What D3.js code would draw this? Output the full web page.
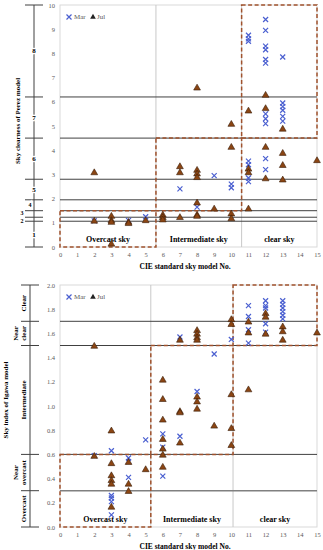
<!DOCTYPE html>
<html>
<head>
<meta charset="utf-8">
<script src="https://cdn.jsdelivr.net/npm/d3@7"></script>
<style>
  body { margin: 0; background: #fff; }
  svg text { font-family: "Liberation Serif", "DejaVu Serif", serif; }
</style>
</head>
<body>
<div id="chart"></div>
<script>
// CIE sky model numbers on the x axis
const skyModels = d3.range(0, 16);

// Perez sky clearness, [model No., value]
const perezMar = [
  [2, 1.08], [4, 1.1], [5, 1.25], [7, 2.4], [8, 1.65], [9, 2.95], [10, 2.6], [10, 2.45],
  [11, 8.75], [11, 8.6], [11, 8.5], [11, 3.55], [11, 3.4], [11, 2.85], [11, 2.7],
  [12, 9.4], [12, 8.95], [12, 8.3], [12, 8.15], [12, 7.75], [12, 7.6], [12, 5.5], [12, 5.3],
  [12, 5.1], [12, 3.65], [12, 3.2],
  [13, 7.85], [13, 5.95], [13, 5.8], [13, 5.65], [13, 5.4], [13, 5.2]
];
const perezJul = [
  [2, 3.1], [2, 1.1], [3, 1.3], [3, 1.12], [3, 1.05], [3, 0.15], [4, 1.05], [4, 1.0], [5, 1.12],
  [6, 1.35], [6, 1.25], [6, 1.15], [7, 3.35], [7, 3.1], [7, 1.25],
  [8, 6.6], [8, 3.2], [8, 3.05], [8, 2.9], [8, 1.85], [8, 1.35], [8, 1.3], [9, 1.6],
  [10, 5.1], [10, 4.15], [10, 1.4], [10, 1.2],
  [11, 5.65], [11, 3.25], [11, 3.1], [11, 1.6],
  [12, 6.3], [12, 5.75], [12, 4.15], [12, 2.85],
  [13, 4.9], [13, 3.9], [13, 3.4], [13, 2.8], [15, 3.6]
];
// Perez clearness category limits and names
const perezLimits = [0, 1.065, 1.23, 1.5, 1.95, 2.8, 4.5, 6.2, 10];
const perezClasses = ["1", "2", "3", "4", "5", "6", "7", "8"];
const perezTicks = d3.range(0, 11);
const perezSplits = [5.6, 10.6];
const perezBoxLimits = [[0, 1.5], [1.5, 4.5], [4.5, 10]];

// Igawa sky index
const igawaMar = [
  [2, 0.59], [3, 0.63], [3, 0.26], [3, 0.24], [3, 0.21], [3, 0.1],
  [4, 0.57], [4, 0.54], [4, 0.41], [5, 0.72], [6, 0.77], [6, 0.66], [6, 0.42],
  [7, 1.57], [7, 0.75], [8, 1.12], [9, 1.43], [10, 1.55],
  [11, 1.83], [11, 1.74], [11, 1.63], [11, 1.52],
  [12, 1.87], [12, 1.83], [12, 1.81], [12, 1.68], [12, 1.61],
  [13, 1.87], [13, 1.84], [13, 1.81], [13, 1.78], [13, 1.75], [13, 1.72]
];
const igawaJul = [
  [2, 1.5], [2, 0.59], [3, 0.8], [3, 0.53], [3, 0.43], [3, 0.39], [3, 0.36], [3, 0.17],
  [4, 0.54], [4, 0.36], [4, 0.3], [5, 0.48],
  [6, 1.22], [6, 1.06], [6, 0.89], [6, 0.73], [6, 0.65], [6, 0.6], [6, 0.5],
  [7, 1.55], [7, 0.96], [7, 0.95], [7, 0.7],
  [8, 1.63], [8, 1.6], [8, 1.57], [8, 1.55], [8, 1.08], [8, 1.04], [8, 0.98], [9, 0.84],
  [10, 1.72], [10, 1.68], [10, 1.1], [10, 0.82], [10, 0.68],
  [11, 1.7], [11, 1.61], [11, 1.14], [12, 1.77], [12, 1.74], [12, 1.6],
  [13, 1.66], [13, 1.62], [13, 1.55], [15, 1.61]
];
const igawaLimits = [0, 0.3, 0.6, 1.5, 1.7, 2.0];
const igawaClasses = [["Overcast"], ["Near", "overcast"], ["Intermediate"], ["Near", "clear"], ["Clear"]];
const igawaTicks = d3.range(0, 2.01, 0.2);
const igawaSplits = [5.3, 10.1];
const igawaBoxLimits = [[0, 0.6], [0.6, 1.5], [1.5, 2.0]];

const regionNames = ["Overcast sky", "Intermediate sky", "clear sky"];

const W = 323, H = 550;
const markBrown = "#8b4513", crossBlue = "#4a5fd0", boxColor = "#a0522d";

const svg = d3.select("#chart").append("svg")
  .attr("width", W).attr("height", H);

function drawPanel(cfg) {
  const g = svg.append("g");
  const x = d3.scaleLinear().domain([0, 15]).range([60, 317]);
  const y = d3.scaleLinear().domain([0, cfg.yMax]).range([cfg.bottom, cfg.top]);

  // plot frame
  g.append("rect")
    .attr("x", x(0)).attr("y", y(cfg.yMax))
    .attr("width", x(15) - x(0)).attr("height", y(0) - y(cfg.yMax))
    .attr("fill", "none").attr("stroke", "#d9d9d9");

  // vertical splits
  g.selectAll(".split").data(cfg.splits).enter().append("line")
    .attr("x1", d => x(d)).attr("x2", d => x(d))
    .attr("y1", y(0)).attr("y2", y(cfg.yMax))
    .attr("stroke", "#c8c8c8");

  // class limits
  const inner = cfg.limits.slice(1, -1);
  g.selectAll(".lim").data(inner).enter().append("line")
    .attr("x1", x(0)).attr("x2", x(15))
    .attr("y1", d => y(d)).attr("y2", d => y(d))
    .attr("stroke", d => cfg.greyLine === d ? "#808080" : "#404040")
    .attr("stroke-width", d => cfg.greyLine === d ? 1.6 : 1);

  // axes
  const xAxis = g.append("g")
    .attr("transform", `translate(0,${cfg.bottom})`)
    .call(d3.axisBottom(x).tickValues(skyModels).tickSize(0).tickPadding(5));
  xAxis.select(".domain").remove();
  xAxis.selectAll("text").attr("fill", "#595959").style("font-size", "6.5px");

  const yAxis = g.append("g")
    .attr("transform", `translate(60,0)`)
    .call(d3.axisLeft(y).tickValues(cfg.ticks).tickFormat(cfg.fmt).tickSize(0).tickPadding(5));
  yAxis.select(".domain").remove();
  yAxis.selectAll("text").attr("fill", "#595959").style("font-size", "6.5px");

  // region boxes
  const xb = [0, cfg.splits[0], cfg.splits[1], 15];
  cfg.boxes.forEach((b, i) => {
    g.append("rect")
      .attr("x", x(xb[i])).attr("y", y(b[1]))
      .attr("width", x(xb[i + 1]) - x(xb[i])).attr("height", y(b[0]) - y(b[1]))
      .attr("fill", "none").attr("stroke", boxColor)
      .attr("stroke-width", 1.5).attr("stroke-dasharray", "4,2.5");
    g.append("text")
      .attr("x", x((xb[i] + xb[i + 1]) / 2)).attr("y", cfg.bottom - cfg.regionLift)
      .attr("text-anchor", "middle").attr("font-weight", "bold")
      .style("font-size", "8px").text(regionNames[i]);
  });

  // side class axis
  const sx = cfg.sideX;
  g.append("line").attr("x1", sx).attr("x2", sx)
    .attr("y1", y(0)).attr("y2", y(cfg.yMax)).attr("stroke", "#404040");
  g.selectAll(".stick").data(cfg.limits).enter().append("line")
    .attr("x1", sx - 9).attr("x2", sx + 9)
    .attr("y1", d => y(d)).attr("y2", d => y(d)).attr("stroke", "#404040");
  cfg.drawClasses(g, y);

  // axis titles
  g.append("text")
    .attr("x", 185).attr("y", cfg.bottom + 22)
    .attr("text-anchor", "middle").attr("font-weight", "bold")
    .style("font-size", "7.5px").text("CIE standard sky model No.");
  g.append("text")
    .attr("transform", `translate(${cfg.titleX},${cfg.titleY}) rotate(-90)`)
    .attr("text-anchor", "middle").attr("font-weight", "bold")
    .style("font-size", "7px").text(cfg.title);

  // points: Mar first, Jul on top
  const cross = d3.symbol().type(d3.symbolTimes).size(18);
  const tri = d3.symbol().type(d3.symbolTriangle).size(20);
  g.selectAll(".mar").data(cfg.mar).enter().append("path")
    .attr("transform", d => `translate(${x(d[0])},${y(d[1])})`)
    .attr("d", cross).attr("fill", "none")
    .attr("stroke", crossBlue).attr("stroke-width", 1.2);
  g.selectAll(".jul").data(cfg.jul).enter().append("path")
    .attr("transform", d => `translate(${x(d[0])},${y(d[1]) + 0.8})`)
    .attr("d", tri).attr("fill", markBrown)
    .attr("stroke", "#3b1f0a").attr("stroke-width", 0.6);

  // legend
  const ly = cfg.top + 12;
  g.append("path").attr("transform", `translate(69,${ly})`)
    .attr("d", cross).attr("fill", "none").attr("stroke", crossBlue).attr("stroke-width", 1.2);
  g.append("text").attr("x", 74).attr("y", ly).attr("dy", "0.35em")
    .attr("fill", "#595959").style("font-size", "7px").text("Mar");
  g.append("path").attr("transform", `translate(93,${ly})`)
    .attr("d", d3.symbol().type(d3.symbolTriangle).size(14)).attr("fill", "#222");
  g.append("text").attr("x", 97).attr("y", ly).attr("dy", "0.35em")
    .attr("fill", "#595959").style("font-size", "7px").text("Jul");
}

// top: Perez
drawPanel({
  top: 5, bottom: 247, yMax: 10,
  ticks: perezTicks, fmt: d3.format("d"),
  limits: perezLimits, splits: perezSplits, boxes: perezBoxLimits,
  mar: perezMar, jul: perezJul,
  sideX: 34, regionLift: 5,
  title: "Sky clearness of Perez model", titleX: 20, titleY: 121,
  drawClasses: (g, y) => {
    // narrow classes get nudged aside so the digits do not collide
    const dx = [0, -12, -12, -4, 0, 0, 0, 0];
    const dy = [0, 1.5, -1.5, 0, 0, 0, 0, 0];
    perezClasses.forEach((c, i) => {
      const mid = (perezLimits[i] + perezLimits[i + 1]) / 2;
      g.append("text")
        .attr("x", 34 + dx[i]).attr("y", y(mid) + dy[i]).attr("dy", "0.35em")
        .attr("text-anchor", "middle").attr("font-weight", "bold")
        .attr("stroke", "#fff").attr("stroke-width", 2.5).attr("paint-order", "stroke")
        .style("font-size", i > 0 && i < 4 ? "6px" : "7px").text(c);
    });
  }
});

// bottom: Igawa
drawPanel({
  top: 285, bottom: 527, yMax: 2.0,
  ticks: igawaTicks, fmt: d3.format(".1f"),
  limits: igawaLimits, splits: igawaSplits, boxes: igawaBoxLimits,
  mar: igawaMar, jul: igawaJul, greyLine: 0.3,
  sideX: 30, regionLift: 5,
  title: "Sky index of Igawa model", titleX: 8, titleY: 400,
  drawClasses: (g, y) => {
    igawaClasses.forEach((lines, i) => {
      const mid = (igawaLimits[i] + igawaLimits[i + 1]) / 2;
      const t = g.append("text")
        .attr("transform", `translate(${lines.length > 1 ? 16 : 24},${y(mid)}) rotate(-90)`)
        .attr("text-anchor", "middle").attr("font-weight", "bold")
        .style("font-size", "7px");
      lines.forEach((s, k) => {
        t.append("tspan").attr("x", 0).attr("dy", k === 0 ? "0.35em" : "1.1em").text(s);
      });
    });
  }
});
</script>
</body>
</html>
